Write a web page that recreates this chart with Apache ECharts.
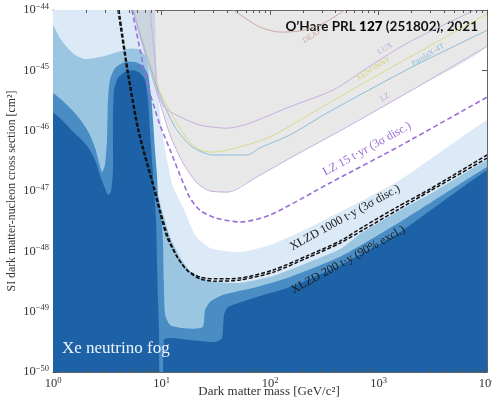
<!DOCTYPE html>
<html><head><meta charset="utf-8">
<script src="https://cdn.jsdelivr.net/npm/echarts@6/dist/echarts.min.js"></script>
<style>html,body{margin:0;padding:0;background:#fff}#c{width:492px;height:402px}</style>
</head><body><div id="c"></div>
<script>
// ---------- data: [mass GeV, cross section cm^2] ----------
const FOG_LIGHTEST = [[0.5,1e-43],[8.6,1e-43],[8.71,1e-44],[9.09,6.9e-46],[10.1,1e-46],[11.5,2.7e-47],[12.8,1.16e-47],[16.5,4.5e-48],[20.4,1.87e-48],[28,1.14e-48],[52.9,9.7e-49],[100,1.27e-48],[189,2.09e-48],[442,4.5e-48],[1578,1.52e-47],[1e4,1.5e-46],[1e5,1.5e-45]];
const FOG_LIGHT = [[0.5,2e-44],[1,5.6e-45],[1.16,3.4e-45],[1.35,2.4e-45],[1.6,1.8e-45],[1.97,1.54e-45],[2.71,1.66e-45],[3.89,2.0e-45],[5.13,2.3e-45],[6.34,2.2e-45],[7.2,1.66e-45],[7.67,8.4e-46],[7.83,2.2e-46],[8.17,7.0e-47],[8.53,2.7e-47],[9.09,1.04e-47],[10.3,4.3e-48],[12.0,1.73e-48],[14.8,8.1e-49],[18.3,4.7e-49],[24.1,3.5e-49],[31.1,3.1e-49],[52.9,3.0e-49],[107,3.9e-49],[219,6.4e-49],[442,1.09e-48],[719,2.09e-48],[1482,4.5e-48],[2985,8.9e-48],[1e4,3.3e-47],[1e5,3.3e-46]];
const FOG_MEDIUM = [[0.5,8e-46],[1,4.2e-46],[1.21,3.2e-46],[1.5,2.2e-46],[1.85,1.4e-46],[2.19,8.5e-47],[2.44,5.2e-47],[2.65,3.0e-47],[2.83,2.07e-47],[3.01,2.7e-47],[3.15,7.0e-47],[3.21,3.2e-46],[3.35,6.9e-46],[3.73,1.09e-45],[4.61,1.37e-45],[5.7,1.37e-45],[6.75,1.18e-45],[7.51,8.4e-46],[8.0,3.9e-46],[8.35,1.5e-46],[8.71,4.8e-47],[9.09,1.84e-47],[9.29,8.6e-48],[9.9,4.0e-48],[10.3,1.54e-48],[10.5,3.35e-49],[10.8,8.8e-50],[12.0,6.0e-50],[14.8,5.4e-50],[20.4,5.2e-50],[24.1,5.6e-50],[25.2,1.06e-49],[28,1.45e-49],[36.9,1.9e-49],[75.9,2.56e-49],[153,3.75e-49],[442,8.1e-49],[1578,3.06e-48],[1e4,2.5e-47],[1e5,2.5e-46]];
const FOG_DARK = [[0.5,4e-46],[1,2.0e-46],[1.21,1.5e-46],[1.5,1e-46],[1.85,7.0e-47],[2.19,4.8e-47],[2.49,3.0e-47],[2.77,1.64e-47],[3.01,1.12e-47],[3.21,8.6e-48],[3.42,9.6e-48],[3.57,2.2e-47],[3.57,1.5e-46],[3.65,4.7e-46],[3.97,7.5e-46],[4.61,9.4e-46],[5.46,1e-45],[6.34,9.0e-46],[7.05,6.9e-46],[7.51,3.2e-46],[7.83,1e-46],[8.17,3.3e-47],[8.53,1.04e-47],[8.9,3.3e-48],[9.09,7.2e-49],[9.29,1.56e-49],[9.48,5.0e-50],[9.69,1e-51],[10.3,1e-51],[10.5,3.4e-50],[12.0,3.66e-50],[18.3,3.4e-50],[31.1,3.14e-50],[36.1,3.66e-50],[37.7,8.8e-50],[41,1.19e-49],[75.9,1.75e-49],[153,2.56e-49],[442,5.9e-49],[1578,2.09e-48],[1e4,2.2e-47],[1e5,2.2e-46]];
const EXCLUDED_LZ = [[5.58,1e-44],[5.94,5.6e-45],[7.35,1.48e-45],[9.09,4.2e-46],[12.0,8.5e-47],[15.8,2.9e-47],[21.2,1.36e-47],[28,1.0e-47],[41,9.6e-48],[72.8,1.64e-47],[153,3.5e-47],[513,1.15e-46],[1950,4.5e-46],[1e4,2.5e-45]];
const LUX = [[7.83,1e-44],[8.71,1.48e-45],[9.29,4.2e-46],[10.8,2.4e-46],[14.8,1.7e-46],[22.6,1.24e-46],[40.2,1.1e-46],[65.4,1.34e-46],[153,2.5e-46],[381,4.7e-46],[835,1.18e-45],[1950,3.0e-45],[7750,1e-44]];
const XENONNT = [[5.46,1e-44],[9.29,5.3e-46],[13.3,1.5e-46],[18.3,6.3e-47],[22.6,4.8e-47],[29.8,4.4e-47],[52.9,5.4e-47],[100,7.9e-47],[271,2.2e-46],[675,5.7e-46],[1950,1.66e-45],[1e4,8.6e-45]];
const PANDAX = [[5.46,1e-44],[9.09,5.3e-46],[13.3,1.15e-46],[19.1,5.4e-47],[29.8,3.95e-47],[61.4,3.95e-47],[80.9,5.2e-47],[153,8.5e-47],[335,1.96e-46],[1950,1.09e-45],[1e4,4.6e-45]];
const DEAP = [[45.6,1e-44],[58.8,7.4e-45],[80.9,5.2e-45],[124,4.3e-45],[189,4.5e-45],[289,5.6e-45],[491,1e-44]];
const LZ15 = [[5.35,1e-44],[6.34,2.2e-45],[7.35,6.2e-46],[9.69,1.24e-46],[12.0,4.8e-47],[14.8,1.84e-47],[18.3,7.7e-48],[22.6,4.8e-48],[31.1,3.6e-48],[52.9,3.06e-48],[100,4.0e-48],[357,1.36e-47],[1578,5.6e-47],[1e4,3.6e-46]];
const XLZD1000 = [[3.97,1e-44],[4.81,1e-45],[6.07,1e-46],[8.53,1.04e-47],[9.69,4.3e-48],[11.2,1.73e-48],[13.9,8.1e-49],[17.2,4.9e-49],[22.6,3.75e-49],[31.1,3.5e-49],[52.9,3.6e-49],[107,4.9e-49],[219,8.4e-49],[442,1.48e-48],[719,2.53e-48],[1482,5.4e-48],[2985,1.08e-47],[1e4,3.95e-47]];
const XLZD200 = [[4.06,1e-44],[4.91,1e-45],[6.2,1e-46],[8.71,1.04e-47],[9.9,4.3e-48],[11.5,1.73e-48],[14.2,7.75e-49],[17.5,4.7e-49],[22.6,3.5e-49],[31.1,3.2e-49],[52.9,3.35e-49],[107,4.5e-49],[219,7.75e-49],[442,1.37e-48],[719,2.25e-48],[1482,4.8e-48],[2985,1.0e-47],[1e4,3.5e-47]];
const LABEL_TEXT = ['XLZD 1000 t\u00b7y (3\u03c3 disc.)','XLZD 200 t\u00b7y (90% excl.)','LZ 15 t\u00b7yr (3\u03c3 disc.)','LUX','XENONNT','PandaX-4T','LZ','DEAP'];
const LABEL_MASS = [491,524,783,1148,890,2858,1148,244];
const LABEL_SIGMA = [3.6e-48,7.2e-49,4.97e-47,2.3e-45,1.05e-45,1.8e-45,3.6e-46,3.7e-45];
const MINOR_TICK_MASSES = [2,3,4,5,6,7,8,9,20,30,40,50,60,70,80,90,200,300,400,500,600,700,800,900,2000,3000,4000,5000,6000,7000,8000,9000];
const MASS_RANGE = [1, 1e4];
const SIGMA_RANGE = [1e-50, 1e-44];

// ---------- plotting (y plotted in units of 1e-50 cm^2 to keep the log scale numerically safe) ----------
const UNIT = 1e-50;
const P = p => [p[0], p[1] / UNIT];
const Y_MIN = SIGMA_RANGE[0] / UNIT, Y_MAX = SIGMA_RANGE[1] / UNIT;
const SERIF = '"Liberation Serif", "DejaVu Serif", serif';
const LABEL_STYLE = [
  {color:'#1a1a1a', size:12, angle:29},
  {color:'#1a1a1a', size:12, angle:29},
  {color:'#9a6dd7', size:12, angle:29},
  {color:'#c3a6dd', size:8, angle:31},
  {color:'#d4d47c', size:8, angle:31},
  {color:'#8dbbd8', size:8, angle:31},
  {color:'#c3a6dd', size:8, angle:31},
  {color:'#c9a9a3', size:8, angle:31}
];

function polySeries(points, fill, z, closing, smooth) {
  return {
    type:'custom', coordinateSystem:'cartesian2d', clip:true, silent:true, z:z,
    data:[[10,1000]],
    renderItem:(params, api) => {
      const pts = points.concat(closing).map(p => api.coord(P(p)));
      return {type:'polygon', shape:{points:pts, smooth:smooth}, style:{fill:fill}};
    }
  };
}
const BOTTOM_CLOSE = [[1e5,1e-53],[0.5,1e-53]];
function lineSeries(data, color, width, dash, z) {
  return {type:'line', data:data.map(P), showSymbol:false, smooth:0.25, clip:true, silent:true, z:z,
    lineStyle:{color:color, width:width, type:dash || 'solid'}};
}
const xFmt = v => '{b|10}{e|' + Math.round(Math.log10(v)) + '}';
const yFmt = v => '{b|10}{e|\u2212' + Math.abs(Math.round(Math.log10(v * UNIT))) + '}';
const richLab = {
  b:{fontSize:12.5, fontFamily:SERIF, color:'#333', lineHeight:16},
  e:{fontSize:8.5, fontFamily:SERIF, color:'#333', verticalAlign:'top', lineHeight:10}
};
const frameAxis = {axisLine:{show:true, onZero:false, lineStyle:{color:'#666', width:1}},
  axisTick:{show:true, inside:true, length:5, lineStyle:{color:'#555'}}, splitLine:{show:false}};

const chart = echarts.init(document.getElementById('c'), null, {renderer:'canvas'});
chart.setOption({
  animation:false,
  backgroundColor:'#fff',
  title:{
    text:'{n|O\u2019Hare PRL }{b|127}{n| (251802), 2021}',
    right:9, top:15,
    textStyle:{rich:{
      n:{fontFamily:'Lato, "Open Sans", sans-serif', fontSize:13.5, color:'#111'},
      b:{fontFamily:'Lato, "Open Sans", sans-serif', fontSize:13.5, fontWeight:900, color:'#000'}
    }}
  },
  graphic:[
    {type:'text', left:62, top:340, z:100,
     style:{text:'Xe neutrino fog', fill:'#eef4fb', font:'17px ' + SERIF}},
    {type:'text', x:269, y:392, z:100,
     style:{text:'Dark matter mass [GeV/c\u00b2]', fill:'#333', font:'13px ' + SERIF, align:'center', verticalAlign:'middle'}},
    {type:'text', x:12, y:191, rotation:Math.PI/2, z:100,
     style:{text:'SI dark matter-nucleon cross section [cm\u00b2]', fill:'#333', font:'11.8px ' + SERIF, align:'center', verticalAlign:'middle'}}
  ],
  grid:{left:53, right:5, top:10, bottom:30, containLabel:false, outerBoundsMode:'none'},
  xAxis:[
    Object.assign({type:'log', logBase:10, min:MASS_RANGE[0], max:MASS_RANGE[1], position:'bottom',
     axisLabel:{formatter:xFmt, rich:richLab, margin:4, showMaxLabel:true, showMinLabel:true}}, frameAxis),
    Object.assign({type:'log', logBase:10, min:MASS_RANGE[0], max:MASS_RANGE[1], position:'top',
     axisLabel:{show:false}}, frameAxis)
  ],
  yAxis:[
    Object.assign({type:'log', logBase:10, min:Y_MIN, max:Y_MAX, position:'left',
     axisLabel:{formatter:yFmt, rich:richLab, margin:4, showMaxLabel:true, showMinLabel:true}}, frameAxis),
    Object.assign({type:'log', logBase:10, min:Y_MIN, max:Y_MAX, position:'right',
     axisLabel:{show:false}}, frameAxis)
  ],
  series:[
    polySeries(FOG_LIGHTEST, '#dce9f6', 1, BOTTOM_CLOSE, 0.2),
    polySeries(FOG_LIGHT, '#9ac6e2', 2, BOTTOM_CLOSE, 0.2),
    polySeries(FOG_MEDIUM, '#4a8dc5', 3, BOTTOM_CLOSE, 0.2),
    polySeries(FOG_DARK, '#1d62a6', 4, BOTTOM_CLOSE, 0.2),
    polySeries(EXCLUDED_LZ, 'rgba(120,120,120,0.17)', 5, [[1e5,1e-42],[5.58,1e-42]], 0.2),
    lineSeries(DEAP, '#c9a9a3', 1, 'solid', 6),
    lineSeries(LUX, '#c7aee0', 1, 'solid', 6),
    lineSeries(XENONNT, '#d9d98a', 1, 'solid', 6),
    lineSeries(PANDAX, '#8dbbd8', 1, 'solid', 6),
    lineSeries(EXCLUDED_LZ, '#c7aee0', 1, 'solid', 6),
    lineSeries(LZ15, '#9a6dd7', 1.6, [5,3], 7),
    lineSeries(XLZD200, '#111', 1.5, [4,2], 8),
    lineSeries(XLZD1000, '#111', 1.5, [4,2], 8),
    {type:'custom', coordinateSystem:'cartesian2d', clip:false, silent:true, z:9,
     data:LABEL_MASS.map((m,i) => P([m, LABEL_SIGMA[i]])),
     renderItem:(params, api) => {
       const i = params.dataIndex, s = LABEL_STYLE[i];
       const p = api.coord([api.value(0), api.value(1)]);
       return {type:'text', x:p[0], y:p[1], rotation:s.angle*Math.PI/180,
         style:{text:LABEL_TEXT[i], fill:s.color, font:s.size + 'px ' + SERIF, align:'center', verticalAlign:'middle'}};
     }},
    {type:'custom', coordinateSystem:'cartesian2d', clip:false, silent:true, z:10,
     data:MINOR_TICK_MASSES.map(m => [m, 1000]),
     renderItem:(params, api) => {
       const m = api.value(0);
       const b = api.coord([m, Y_MIN]), t = api.coord([m, Y_MAX]);
       const x = Math.round(b[0]) + 0.5;
       return {type:'group', children:[
         {type:'line', shape:{x1:x, y1:b[1], x2:x, y2:b[1]-3}, style:{stroke:'#555', lineWidth:1}},
         {type:'line', shape:{x1:x, y1:t[1], x2:x, y2:t[1]+3}, style:{stroke:'#555', lineWidth:1}}
       ]};
     }}
  ]
});
</script></body></html>
